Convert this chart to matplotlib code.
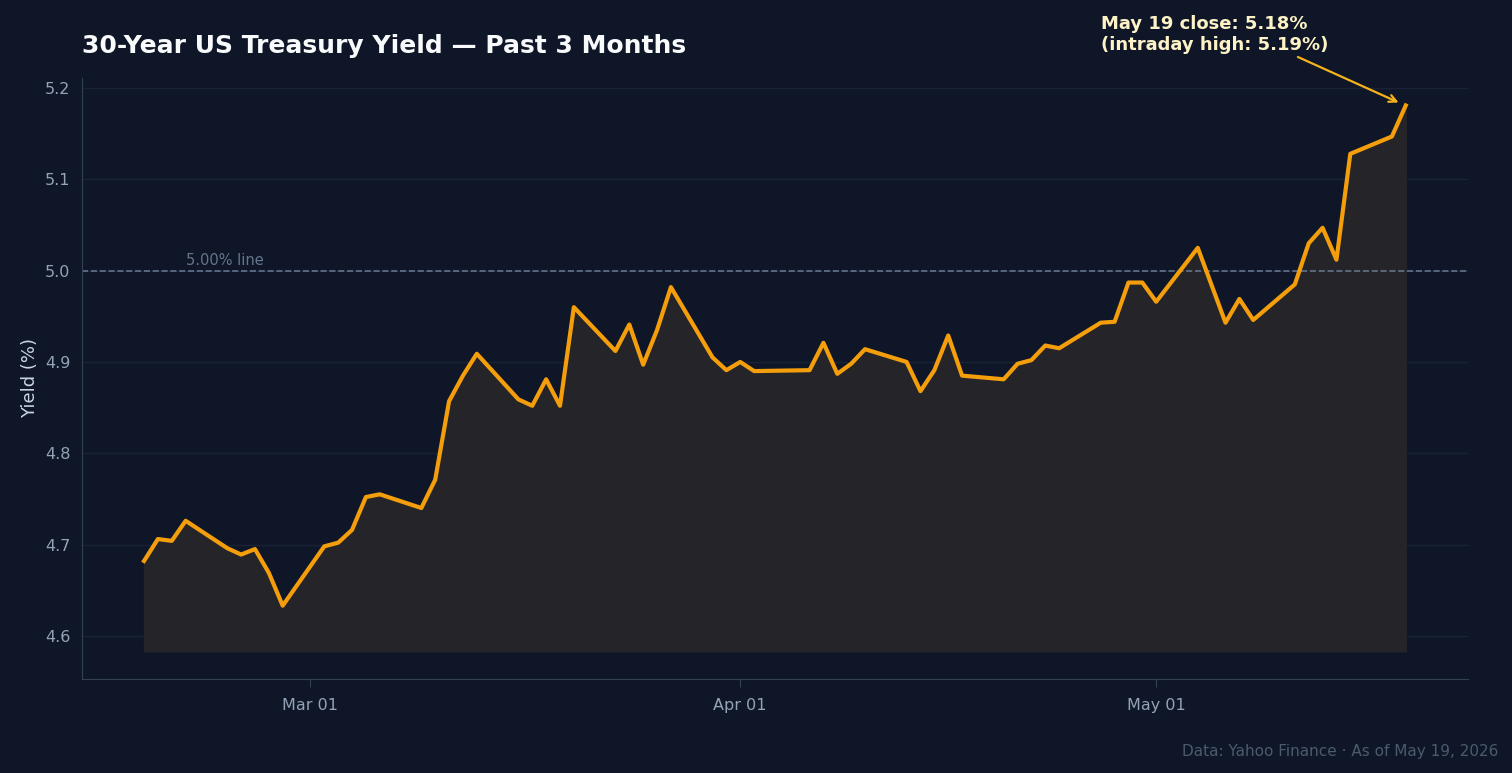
import matplotlib
matplotlib.use("Agg")
import matplotlib.pyplot as plt
import matplotlib.dates as mdates
import pandas as pd

dates = ["2026-02-17","2026-02-18","2026-02-19","2026-02-20","2026-02-23","2026-02-24","2026-02-25","2026-02-26","2026-02-27",
 "2026-03-02","2026-03-03","2026-03-04","2026-03-05","2026-03-06","2026-03-09","2026-03-10","2026-03-11","2026-03-12","2026-03-13",
 "2026-03-16","2026-03-17","2026-03-18","2026-03-19","2026-03-20","2026-03-23","2026-03-24","2026-03-25","2026-03-26","2026-03-27",
 "2026-03-30","2026-03-31","2026-04-01","2026-04-02","2026-04-06","2026-04-07","2026-04-08","2026-04-09","2026-04-10",
 "2026-04-13","2026-04-14","2026-04-15","2026-04-16","2026-04-17","2026-04-20","2026-04-21","2026-04-22","2026-04-23","2026-04-24",
 "2026-04-27","2026-04-28","2026-04-29","2026-04-30","2026-05-01","2026-05-04","2026-05-06","2026-05-07","2026-05-08",
 "2026-05-11","2026-05-12","2026-05-13","2026-05-14","2026-05-15","2026-05-18","2026-05-19"]
yields = [4.682,4.706,4.704,4.726,4.696,4.689,4.695,4.669,4.633,
 4.698,4.702,4.716,4.752,4.755,4.740,4.771,4.857,4.885,4.909,
 4.859,4.852,4.881,4.852,4.960,4.912,4.941,4.897,4.935,4.982,
 4.905,4.891,4.900,4.890,4.891,4.921,4.887,4.898,4.914,
 4.900,4.868,4.891,4.929,4.885,4.881,4.898,4.902,4.918,4.915,
 4.943,4.944,4.987,4.987,4.966,5.025,4.943,4.969,4.946,
 4.985,5.030,5.047,5.012,5.128,5.147,5.181]
x = pd.to_datetime(dates)

BG = "#0e1628"
fig = plt.figure(figsize=(15.12, 7.73), dpi=100, facecolor=BG)
ax = fig.add_axes([0.054, 0.122, 0.917, 0.777], facecolor=BG)
base = 4.583
ax.fill_between(x, yields, base, color="#252428", zorder=1)
ax.plot(x, yields, color="#f59e0b", lw=3, zorder=3)
ax.axhline(5.0, color="#64748b", ls="--", lw=1.2, zorder=2)
ax.text(pd.Timestamp("2026-02-20"), 5.003, "5.00% line", color="#64748b", fontsize=10.5, va="bottom")

ax.set_xlim(pd.Timestamp("2026-02-12 12:00"), pd.Timestamp("2026-05-23 12:00"))
ax.set_ylim(4.553, 5.211)
ax.set_yticks([4.6, 4.7, 4.8, 4.9, 5.0, 5.1, 5.2])
ax.xaxis.set_major_locator(mdates.MonthLocator())
ax.xaxis.set_major_formatter(mdates.DateFormatter("%b %d"))
ax.grid(axis="y", color="#1a2335", lw=1)
ax.set_axisbelow(True)
for s in ["top", "right"]:
    ax.spines[s].set_visible(False)
for s in ["left", "bottom"]:
    ax.spines[s].set_color("#334155")
ax.tick_params(colors="#94a3b8", labelsize=11.5)
ax.tick_params(axis="y", length=0, pad=8)
ax.tick_params(axis="x", length=6, color="#334155", pad=8)
ax.set_ylabel("Yield (%)", color="#cbd5e1", fontsize=13)

fig.text(0.054, 0.94, "30-Year US Treasury Yield — Past 3 Months", color="#f8fafc",
         fontsize=18, fontweight="bold", va="center")
ax.annotate("May 19 close: 5.18%\n(intraday high: 5.19%)",
            xy=(x[-1] - pd.Timedelta(hours=8), 5.183),
            xytext=(0.728, 0.955), textcoords="figure fraction",
            color="#fef3c7", fontsize=13, fontweight="bold", ha="left", va="center",
            arrowprops=dict(arrowstyle="->", color="#f5b21b", lw=1.6,
                            shrinkA=0, shrinkB=2, relpos=(0.84, 0.0)))
fig.text(0.991, 0.028, "Data: Yahoo Finance · As of May 19, 2026", color="#4b5a6e",
         fontsize=11, ha="right", va="center")
fig.savefig("out.png", dpi=100, facecolor=BG)
